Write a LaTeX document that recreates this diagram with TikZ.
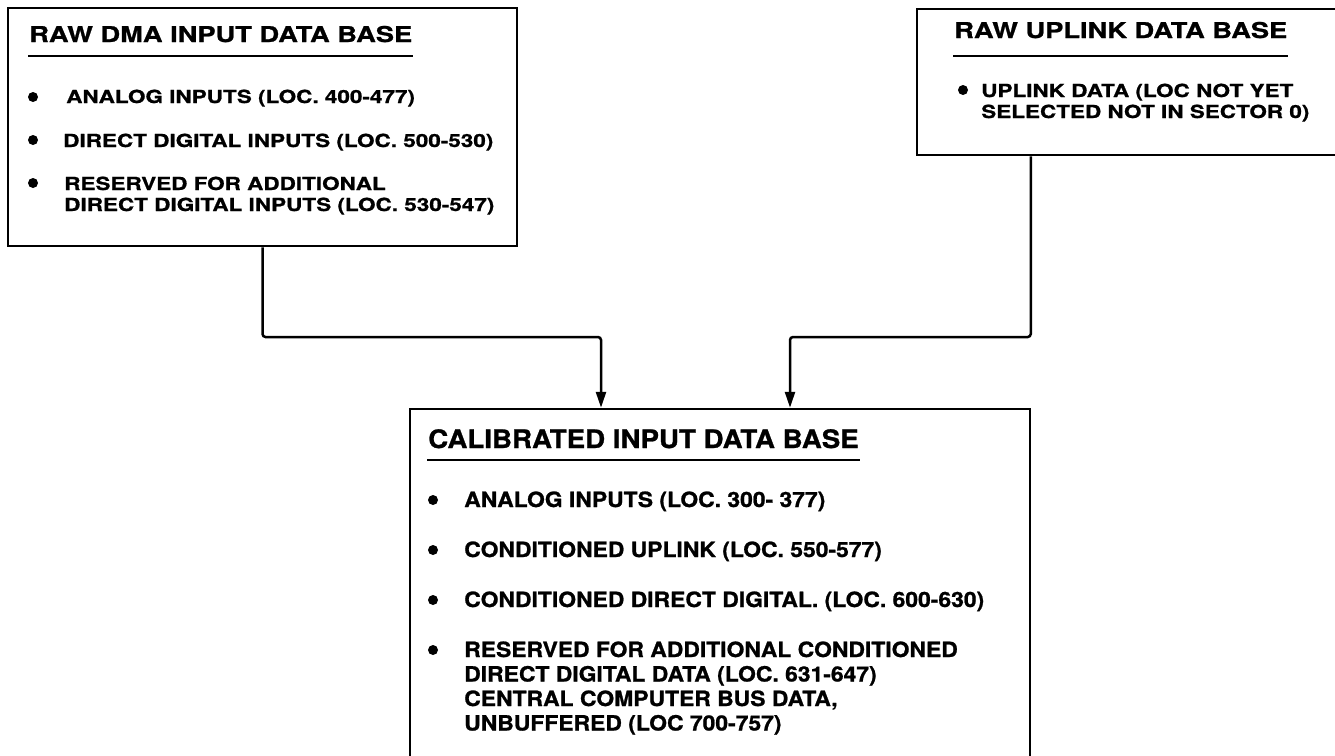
\documentclass[tikz,border=0pt]{standalone}
\usepackage{fontspec}
\setmainfont{TeX Gyre Heros}
\newfontfamily\topface{TeX Gyre Heros}[FakeStretch=1.25, BoldFeatures={FakeBold=1}]
\newfontfamily\lowface{TeX Gyre Heros}[FakeStretch=1.09, BoldFeatures={FakeBold=1}]
\usetikzlibrary{arrows.meta}

\begin{document}
\begin{tikzpicture}[x=1pt, y=-1pt, line width=2.5pt,
    dbbox/.style={draw, rectangle, inner sep=0pt},
    toptitle/.style={anchor=base west, inner sep=0pt, font=\topface\bfseries\fontsize{21.8}{24}\selectfont},
    topitem/.style={anchor=base west, inner sep=0pt, font=\topface\bfseries\fontsize{18}{21}\selectfont},
    lowtitle/.style={anchor=base west, inner sep=0pt, font=\lowface\bfseries\fontsize{25.4}{28}\selectfont},
    lowitem/.style={anchor=base west, inner sep=0pt, font=\lowface\bfseries\fontsize{21}{24.5}\selectfont},
    uline/.style={line width=2pt},
    flow/.style={-{Triangle[length=16pt,width=10pt]}, rounded corners=3pt}]
    \useasboundingbox (0,0) rectangle (1335,755);
    \clip (0,0) rectangle (1335,755);

    % data base boxes
    \node[dbbox, minimum width=509pt, minimum height=238pt] (rawdma) at (262.5,127) {};
    \node[dbbox, minimum width=440pt, minimum height=146pt] (rawup) at (1137,82) {};
    \node[dbbox, minimum width=620pt, minimum height=362pt] (calib) at (720,590) {};

    % raw dma
    \node[toptitle] (dmatitle) at (28,42) {RAW DMA INPUT DATA BASE};
    \draw[uline] ([yshift=-14pt]dmatitle.base west) -- ([yshift=-14pt]dmatitle.base east);
    \node[topitem] (dma1) at (65,103) {ANALOG INPUTS (LOC. 400-477)};
    \node[topitem] (dma2) at (62,147) {DIRECT DIGITAL INPUTS (LOC. 500-530)};
    \node[topitem] (dma3) at (63,190) {\begin{tabular}[t]{@{}l@{}}RESERVED FOR ADDITIONAL\\DIRECT DIGITAL INPUTS (LOC. 530-547)\end{tabular}};
    \foreach \y in {97,140,183}
        \fill (33,\y) circle (5pt);

    % raw uplink
    \node[toptitle] (uptitle) at (953,38) {RAW UPLINK DATA BASE};
    \draw[uline] ([yshift=-18pt]uptitle.base west) -- ([yshift=-18pt]uptitle.base east);
    \node[topitem] (up1) at (980,97) {\begin{tabular}[t]{@{}l@{}}UPLINK DATA (LOC NOT YET\\SELECTED NOT IN SECTOR 0)\end{tabular}};
    \fill (963,90) circle (5pt);

    % calibrated
    \node[lowtitle] (caltitle) at (427,448) {CALIBRATED INPUT DATA BASE};
    \draw[uline] ([yshift=-12pt]caltitle.base west) -- ([yshift=-12pt]caltitle.base east);
    \node[lowitem] (cal1) at (463,507) {ANALOG INPUTS (LOC. 300- 377)};
    \node[lowitem] (cal2) at (463,557) {CONDITIONED UPLINK (LOC. 550-577)};
    \node[lowitem] (cal3) at (463,607) {CONDITIONED DIRECT DIGITAL. (LOC. 600-630)};
    \node[lowitem] (cal4) at (463,657) {\begin{tabular}[t]{@{}l@{}}RESERVED FOR ADDITIONAL CONDITIONED\\DIRECT DIGITAL DATA (LOC. 631-647)\\CENTRAL COMPUTER BUS DATA,\\UNBUFFERED (LOC 700-757)\end{tabular}};
    \foreach \y in {500,550,600,650}
        \fill (433,\y) circle (5pt);

    % connectors
    \coordinate (jl) at (601,337);
    \coordinate (jr) at (790,337);
    \draw[flow] (rawdma.south) |- (jl) -- (jl |- calib.north);
    \draw[flow] ([xshift=115pt]rawup.south west) |- (jr) -- (jr |- calib.north);
\end{tikzpicture}
\end{document}
